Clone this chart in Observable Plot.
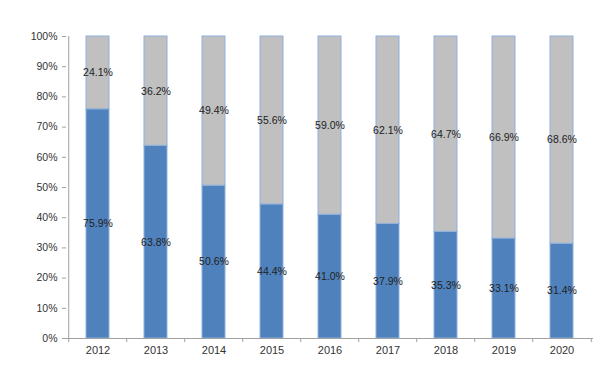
<!DOCTYPE html>
<html><head><meta charset="utf-8">
<script src="https://cdn.jsdelivr.net/npm/d3@7"></script>
<script src="https://cdn.jsdelivr.net/npm/@observablehq/plot@0.6"></script>
<style>html,body{margin:0;padding:0;background:#fff}</style>
</head><body><div id="chart"></div>
<script>
const years = ["2012","2013","2014","2015","2016","2017","2018","2019","2020"];
const blueShare = [75.9,63.8,50.6,44.4,41.0,37.9,35.3,33.1,31.4];
const greyShare = [24.1,36.2,49.4,55.6,59.0,62.1,64.7,66.9,68.6];
const yTicks = [0,10,20,30,40,50,60,70,80,90,100];
const series = ["lower","upper"];
const seriesColors = ["#4f81bd","#c0c0c0"];

const rows = [];
years.forEach((y, i) => {
  rows.push({year: y, series: series[0], value: blueShare[i]});
  rows.push({year: y, series: series[1], value: greyShare[i]});
});

const W = 600, H = 372, ML = 66, MR = 7, MT = 36, MB = 34;
const padInner = 0.6, padOuter = padInner / 2;
const step = (W - ML - MR) / (years.length - padInner + 2 * padOuter);
const font = "'Liberation Sans', Arial, sans-serif";

const chart = Plot.plot({
  width: W, height: H,
  marginLeft: ML, marginRight: MR, marginTop: MT, marginBottom: MB,
  style: {fontFamily: font, background: "#fff", color: "#333"},
  x: {domain: years, paddingInner: padInner, paddingOuter: padOuter, label: null},
  y: {domain: [0, 100], label: null},
  color: {domain: series, range: seriesColors, legend: false},
  marks: [
    Plot.barY(rows, {x: "year", y: "value", fill: "series", stroke: "#8fb0dc", strokeWidth: 1}),
    Plot.text(rows, Plot.stackY({x: "year", y: "value", text: d => d.value.toFixed(1) + "%", fill: "#222", fontSize: 10.5})),
    Plot.ruleY([0], {stroke: "#a0a0a0"}),
    Plot.ruleX([years[0]], {y1: 0, y2: 100, dx: -step / 2, stroke: "#a0a0a0"}),
    Plot.ruleX(years, {y1: 0, y2: 0, insetBottom: -4, dx: -step / 2, stroke: "#a0a0a0"}),
    Plot.ruleX([years[years.length - 1]], {y1: 0, y2: 0, insetBottom: -4, dx: step / 2, stroke: "#a0a0a0"}),
    Plot.axisY({ticks: yTicks, tickFormat: d => d + "%", tickSize: 4, tickPadding: 5, stroke: "#a0a0a0", fill: "#333", fontSize: 10.5, label: null}),
    Plot.axisX({tickSize: 0, tickPadding: 8, fill: "#333", fontSize: 11, label: null})
  ]
});
document.getElementById("chart").appendChild(chart);
</script>
</body></html>
